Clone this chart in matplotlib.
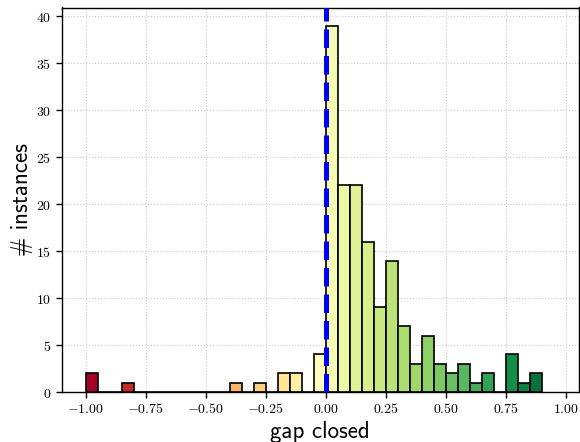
import numpy as np
import matplotlib
matplotlib.use("Agg")
import matplotlib.pyplot as plt
from matplotlib import cm
from matplotlib.ticker import FuncFormatter

plt.rcParams["mathtext.fontset"] = "cm"

# Histogram of the gap closed per instance (bins of width 0.05 starting at -1)
bin_start = -1.0
bin_width = 0.05
counts = [2, 0, 0, 1, 0, 0, 0, 0, 0, 0, 0, 0, 1, 0, 1, 0, 2, 2, 0, 4,
          39, 22, 22, 16, 9, 14, 7, 3, 6, 3, 2, 3, 1, 2, 0, 4, 1, 2]
x_ticks = [-1.00, -0.75, -0.50, -0.25, 0.00, 0.25, 0.50, 0.75, 1.00]
y_ticks = [0, 5, 10, 15, 20, 25, 30, 35, 40]
reference_gap = 0.0

counts = np.array(counts, dtype=float)
edges = bin_start + bin_width * np.arange(len(counts) + 1)
centers = 0.5 * (edges[:-1] + edges[1:])

fig = plt.figure(figsize=(5.8, 4.42), dpi=100)
ax = fig.add_axes([61.5 / 580, 1 - 392 / 442, 517 / 580, 384.5 / 442])

n, bins, patches = ax.hist(centers, bins=edges, weights=counts,
                           edgecolor="black", linewidth=1.2, zorder=2)

# colour each bar by the position of its left edge on the red-yellow-green scale
norm = plt.Normalize(edges[0], edges[-1])
for left, p in zip(edges[:-1], patches):
    p.set_facecolor(cm.RdYlGn(norm(left)))

ax.axvline(reference_gap, color="blue", linestyle="--", linewidth=3.6, zorder=3)

ax.set_xlim(-1.1, 1.052)
ax.set_ylim(0, counts.max() * 1.05)
ax.set_xticks(x_ticks)
ax.set_yticks(y_ticks)
ax.xaxis.set_major_formatter(FuncFormatter(lambda v, pos: r"$%.2f$" % v))
ax.yaxis.set_major_formatter(FuncFormatter(lambda v, pos: r"$%d$" % v))
ax.tick_params(labelsize=10, length=4, width=1)
ax.grid(True, color="0.8", linestyle=":", linewidth=0.8, zorder=0)
ax.set_axisbelow(True)
for s in ax.spines.values():
    s.set_linewidth(1.0)

ax.set_xlabel("gap closed", fontsize=16.5, family="cmss10", labelpad=3)
ax.set_ylabel("# instances", fontsize=16.5, family="cmss10", labelpad=2)

fig.savefig("out.png", dpi=100)
